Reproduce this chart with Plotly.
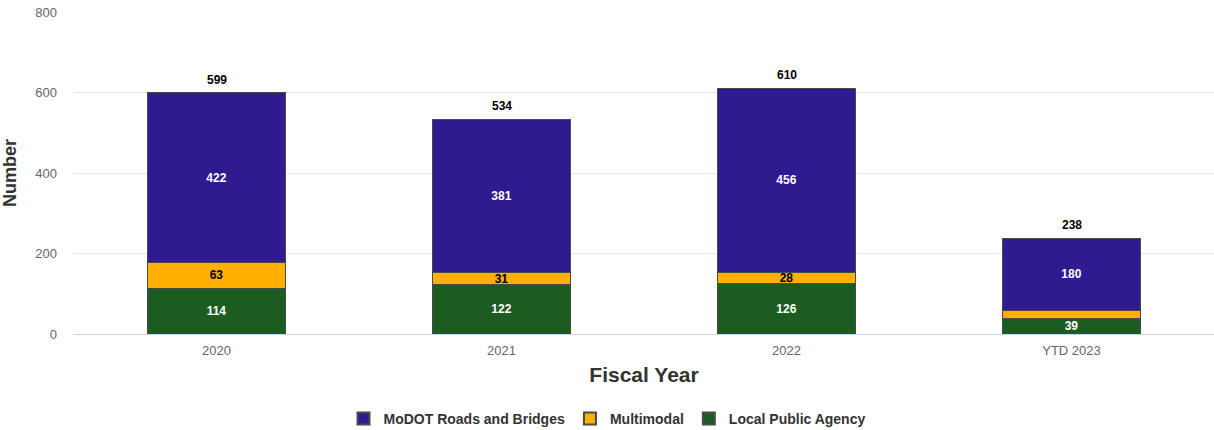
import plotly.graph_objects as go

# 会計年度ごとの件数
years = ["2020", "2021", "2022", "YTD 2023"]
modot = [422, 381, 456, 180]
multimodal = [63, 31, 28, 19]
lpa = [114, 122, 126, 39]
multimodal_labels = ["63", "31", "28", ""]  # YTD 2023は表示なし

totals = [a + b + c for a, b, c in zip(modot, multimodal, lpa)]

font_family = "Liberation Sans, Arial, sans-serif"
bar_line = dict(color="#4a4a4a", width=1)


def seg_text(color):
    return dict(color=color, size=12, family=font_family, weight="bold")


fig = go.Figure()

fig.add_trace(go.Bar(
    x=years, y=lpa, name="Local Public Agency",
    marker=dict(color="#1d5c21", line=bar_line),
    text=[str(v) for v in lpa], textposition="inside", insidetextanchor="middle",
    textangle=0, textfont=seg_text("white"), legendrank=3, hoverinfo="y+name"
))
fig.add_trace(go.Bar(
    x=years, y=multimodal, name="Multimodal",
    marker=dict(color="#ffb000", line=bar_line),
    text=multimodal_labels, textposition="inside", insidetextanchor="middle",
    textangle=0, textfont=seg_text("black"), legendrank=2, hoverinfo="y+name"
))
fig.add_trace(go.Bar(
    x=years, y=modot, name="MoDOT Roads and Bridges",
    marker=dict(color="#2f1a8f", line=bar_line),
    text=[str(v) for v in modot], textposition="inside", insidetextanchor="middle",
    textangle=0, textfont=seg_text("white"), legendrank=1, hoverinfo="y+name"
))

# 合計値のラベル(カテゴリ軸なので位置はインデックスで指定)
for i, tot in enumerate(totals):
    fig.add_annotation(
        x=i, y=tot, text=str(tot), showarrow=False,
        yanchor="bottom", yshift=4,
        font=dict(color="black", size=12, family=font_family, weight="bold")
    )

fig.update_layout(
    width=1214, height=430,
    barmode="stack", bargap=0.516,
    margin=dict(l=74, r=0, t=12, b=96, autoexpand=False),
    plot_bgcolor="white", paper_bgcolor="white",
    font=dict(family=font_family, color="#666666", size=13),
    uniformtext=dict(minsize=12, mode="show"),
    legend=dict(
        orientation="h", xref="container", x=0.5, xanchor="center",
        y=-0.264, yanchor="middle",
        font=dict(size=14, color="#333333", weight="bold"),
        traceorder="normal", itemsizing="constant"
    ),
    xaxis=dict(
        type="category",
        title=dict(text="Fiscal Year", font=dict(size=21, color="#333333", weight="bold"), standoff=10),
        showline=True, linecolor="#ccd6eb", linewidth=1,
        ticks="", tickfont=dict(size=13, color="#666666"), ticklabelstandoff=4,
        automargin=False
    ),
    yaxis=dict(
        title=dict(text="Number", font=dict(size=18, color="#333333", weight="bold"), standoff=17),
        range=[0, 800], dtick=200,
        gridcolor="#e6e6e6", zeroline=False,
        tickfont=dict(size=13, color="#666666"), ticklabelstandoff=16,
        ticklabeloverflow="allow", automargin=False
    ),
)

# ページ本体の既定余白を消す
fig.write_html("out.html", config={"displayModeBar": False},
               post_script="document.body.style.margin='0';")
